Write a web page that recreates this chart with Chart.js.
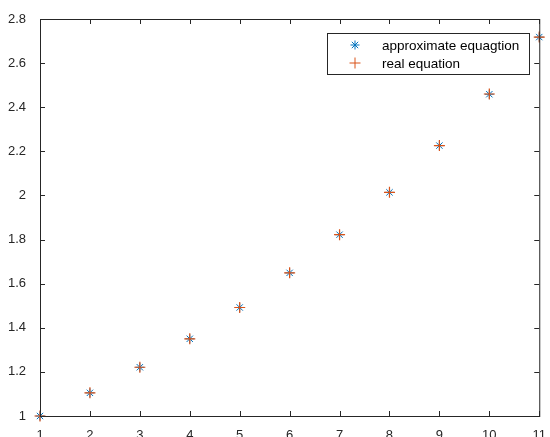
<!DOCTYPE html>
<html lang="en">
<head>
    <meta charset="UTF-8">
    <title>approximate vs real equation</title>
    <script src="https://cdn.jsdelivr.net/npm/chart.js"></script>
    <style>
        html, body { margin: 0; padding: 0; background: #fff; }
        #wrap { width: 550px; height: 437px; }
    </style>
</head>
<body>
    <div id="wrap"><canvas id="plot"></canvas></div>
    <script>
        // values
        const xValues = [1, 2, 3, 4, 5, 6, 7, 8, 9, 10, 11];
        const approxValues = [1.000, 1.105, 1.221, 1.350, 1.492, 1.649, 1.822, 2.014, 2.226, 2.459, 2.718];
        const realValues = [1.000, 1.105, 1.221, 1.350, 1.492, 1.649, 1.822, 2.014, 2.226, 2.460, 2.718];
        const seriesNames = ['approximate equagtion', 'real equation'];

        const axisColor = '#262626';
        const fontFamily = '"Liberation Sans", Arial, sans-serif';

        // box around the axes + ticks pointing inward (matlab look)
        const boxPlugin = {
            id: 'box',
            afterDraw(chart) {
                const { ctx, chartArea: a, scales } = chart;
                ctx.save();
                ctx.strokeStyle = axisColor;
                ctx.lineWidth = 1;
                ctx.strokeRect(a.left + 0.5, a.top + 0.5, a.right - a.left, a.bottom - a.top);
                const len = 5;
                ctx.beginPath();
                scales.x.ticks.forEach(t => {
                    const px = Math.round(scales.x.getPixelForValue(t.value)) + 0.5;
                    ctx.moveTo(px, a.bottom); ctx.lineTo(px, a.bottom - len);
                    ctx.moveTo(px, a.top); ctx.lineTo(px, a.top + len);
                });
                scales.y.ticks.forEach(t => {
                    const py = Math.round(scales.y.getPixelForValue(t.value)) + 0.5;
                    ctx.moveTo(a.left, py); ctx.lineTo(a.left + len, py);
                    ctx.moveTo(a.right, py); ctx.lineTo(a.right - len, py);
                });
                ctx.stroke();

                // legend box
                const lx = 327, ly = 33, lw = 202, lh = 41;
                ctx.fillStyle = '#fff';
                ctx.fillRect(lx, ly, lw, lh);
                ctx.strokeRect(lx + 0.5, ly + 0.5, lw, lh);
                ctx.font = '13.5px ' + fontFamily;
                ctx.textBaseline = 'middle';
                chart.data.datasets.forEach((ds, i) => {
                    const cy = ly + 12 + i * 18;
                    ctx.strokeStyle = ds.borderColor;
                    ctx.fillStyle = ds.borderColor;
                    ctx.lineWidth = 1;
                    Chart.helpers.drawPoint(ctx, {
                        pointStyle: ds.pointStyle, radius: ds.pointRadius, borderWidth: 1
                    }, 355, cy);
                    ctx.fillStyle = '#000';
                    ctx.fillText(ds.label, 382, cy + 1);
                });
                ctx.restore();
            }
        };

        new Chart(document.getElementById('plot'), {
            type: 'scatter',
            data: {
                datasets: [
                    {
                        label: seriesNames[0],
                        data: xValues.map((x, i) => ({ x: x, y: approxValues[i] })),
                        pointStyle: 'star',
                        pointRadius: 4.5,
                        borderColor: '#0072BD',
                        backgroundColor: '#0072BD',
                        borderWidth: 1,
                        order: 2,
                        clip: false
                    },
                    {
                        label: seriesNames[1],
                        data: xValues.map((x, i) => ({ x: x, y: realValues[i] })),
                        pointStyle: 'cross',
                        pointRadius: 5.5,
                        borderColor: '#D95319',
                        backgroundColor: '#D95319',
                        borderWidth: 1.2,
                        order: 1,
                        clip: false
                    }
                ]
            },
            options: {
                responsive: true,
                maintainAspectRatio: false,
                animation: false,
                layout: { padding: { top: 19, right: 8, left: 0, bottom: 0 } },
                plugins: {
                    legend: { display: false },
                    tooltip: { enabled: false }
                },
                scales: {
                    x: {
                        type: 'linear',
                        min: 1,
                        max: 11,
                        border: { display: false },
                        grid: { display: false },
                        ticks: {
                            stepSize: 1,
                            padding: 4,
                            color: axisColor,
                            font: { family: fontFamily, size: 13 }
                        },
                        afterFit(scale) { scale.height = 21; }
                    },
                    y: {
                        min: 1,
                        max: 2.8,
                        border: { display: false },
                        grid: { display: false },
                        ticks: {
                            stepSize: 0.2,
                            padding: 6,
                            color: axisColor,
                            font: { family: fontFamily, size: 13 },
                            callback: v => String(Number(v.toFixed(1)))
                        },
                        afterFit(scale) { scale.width = 40; }
                    }
                }
            },
            plugins: [boxPlugin]
        });
    </script>
</body>
</html>
